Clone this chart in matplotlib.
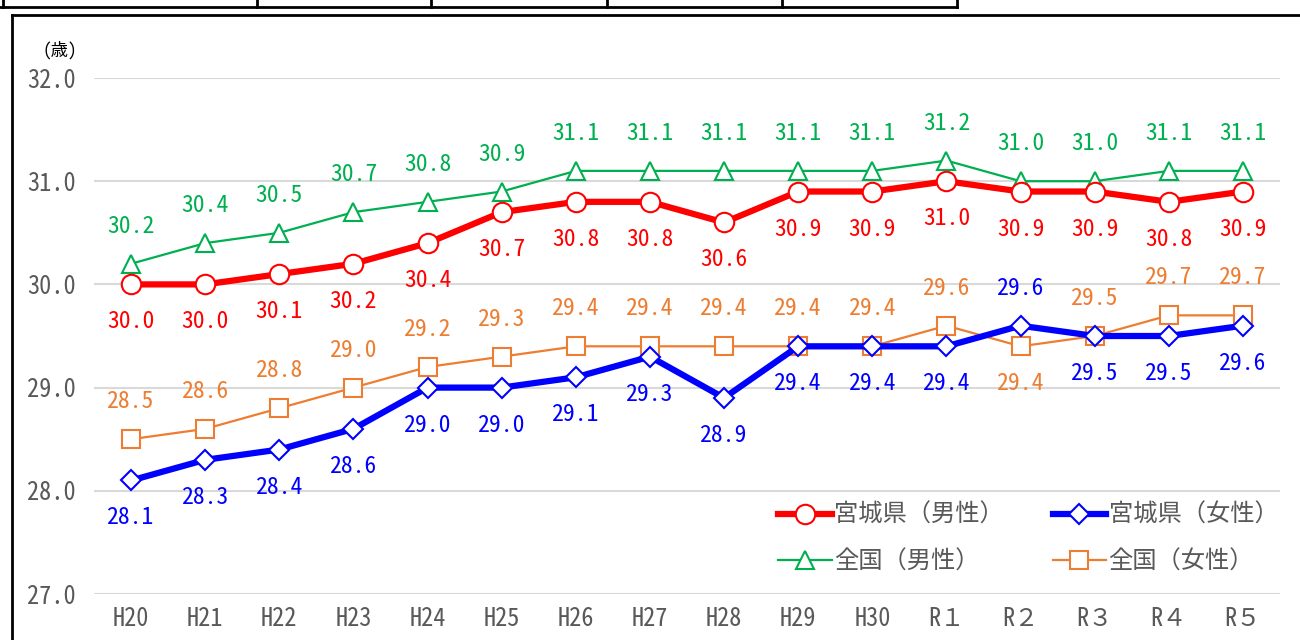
import matplotlib
matplotlib.use("Agg")
import matplotlib.pyplot as plt
from matplotlib.lines import Line2D

plt.rcParams['font.family'] = ['Noto Sans Mono CJK JP', 'Noto Sans CJK JP', 'DejaVu Sans']

years = ['H20', 'H21', 'H22', 'H23', 'H24', 'H25', 'H26', 'H27', 'H28', 'H29', 'H30',
         'R１', 'R２', 'R３', 'R４', 'R５']
miyagi_m = [30.0, 30.0, 30.1, 30.2, 30.4, 30.7, 30.8, 30.8, 30.6, 30.9, 30.9, 31.0, 30.9, 30.9, 30.8, 30.9]
miyagi_f = [28.1, 28.3, 28.4, 28.6, 29.0, 29.0, 29.1, 29.3, 28.9, 29.4, 29.4, 29.4, 29.6, 29.5, 29.5, 29.6]
zenkoku_m = [30.2, 30.4, 30.5, 30.7, 30.8, 30.9, 31.1, 31.1, 31.1, 31.1, 31.1, 31.2, 31.0, 31.0, 31.1, 31.1]
zenkoku_f = [28.5, 28.6, 28.8, 29.0, 29.2, 29.3, 29.4, 29.4, 29.4, 29.4, 29.4, 29.6, 29.4, 29.5, 29.7, 29.7]

# label side per point: +1 above, -1 below
miyagi_f_side = [-1] * 16
miyagi_f_side[12] = 1
zenkoku_f_side = [1] * 16
zenkoku_f_side[12] = -1

W, H = 1300, 640
fig = plt.figure(figsize=(13, 6.4), dpi=100)
ax = fig.add_axes([94 / W, 1 - 594 / H, (1280 - 94) / W, (594 - 78) / H])

x = list(range(len(years)))
red, blue, green, orange = '#FF0000', '#0000FF', '#00B050', '#ED7D31'
gray = '#595959'

ax.plot(x, zenkoku_m, color=green, lw=1.6, marker='^', ms=13, mfc='white', mec=green, mew=1.5,
        label='全国（男性）', zorder=3)
ax.plot(x, zenkoku_f, color=orange, lw=1.6, marker='s', ms=13, mfc='white', mec=orange, mew=1.5,
        label='全国（女性）', zorder=3)
ax.plot(x, miyagi_f, color=blue, lw=4.5, marker='D', ms=10, mfc='white', mec=blue, mew=1.5,
        label='宮城県（女性）', zorder=4)
ax.plot(x, miyagi_m, color=red, lw=4.5, marker='o', ms=14, mfc='white', mec=red, mew=1.5,
        label='宮城県（男性）', zorder=5)

off = 27
fs = 17
for i in x:
    ax.annotate(f'{zenkoku_m[i]:.1f}', (i, zenkoku_m[i]), xytext=(0, off), textcoords='offset points',
                ha='center', va='center', color=green, fontsize=fs)
    ax.annotate(f'{miyagi_m[i]:.1f}', (i, miyagi_m[i]), xytext=(0, -off), textcoords='offset points',
                ha='center', va='center', color=red, fontsize=fs)
    ax.annotate(f'{miyagi_f[i]:.1f}', (i, miyagi_f[i]), xytext=(0, off * miyagi_f_side[i]),
                textcoords='offset points', ha='center', va='center', color=blue, fontsize=fs)
    ax.annotate(f'{zenkoku_f[i]:.1f}', (i, zenkoku_f[i]), xytext=(0, off * zenkoku_f_side[i]),
                textcoords='offset points', ha='center', va='center', color=orange, fontsize=fs)

ax.set_xlim(-0.5, len(years) - 0.5)
ax.set_ylim(27, 32)
ax.set_yticks([27, 28, 29, 30, 31, 32])
ax.set_yticklabels([f'{v:.1f}' for v in [27, 28, 29, 30, 31, 32]])
ax.set_xticks(x)
ax.set_xticklabels(years)
ax.tick_params(axis='both', length=0, colors=gray, labelsize=17.5)
ax.tick_params(axis='y', pad=13)
ax.tick_params(axis='x', pad=9)
ax.grid(axis='y', color='#D9D9D9', lw=1.5)
ax.set_axisbelow(True)
for s in ax.spines.values():
    s.set_visible(False)

fig.text(60 / W, 1 - 50 / H, '(歳)', ha='center', va='center', fontsize=12.5, color='black')

handles, labels = ax.get_legend_handles_labels()
order = [3, 0, 2, 1]
ax.legend([handles[k] for k in order], [labels[k] for k in order], ncol=2, frameon=False,
          loc='lower right', bbox_to_anchor=(1.017, -0.005), labelcolor=gray,
          prop={'family': ['Noto Sans CJK JP', 'DejaVu Sans'], 'size': 17.5},
          handlelength=2.2, handletextpad=0.1, columnspacing=2.0, labelspacing=0.85)

# frame of the chart and table fragment at the top
def fline(x0, y0, x1, y1, lw=2):
    fig.add_artist(Line2D([x0 / W, x1 / W], [1 - y0 / H, 1 - y1 / H], color='black', lw=lw))

fline(12, 15, 1300, 15)
fline(12, 15, 12, 640)
fline(0, 7, 957, 7)
for vx in [3, 257, 431, 607, 782, 957]:
    fline(vx, 0, vx, 7)

fig.savefig('out.png', dpi=100)
